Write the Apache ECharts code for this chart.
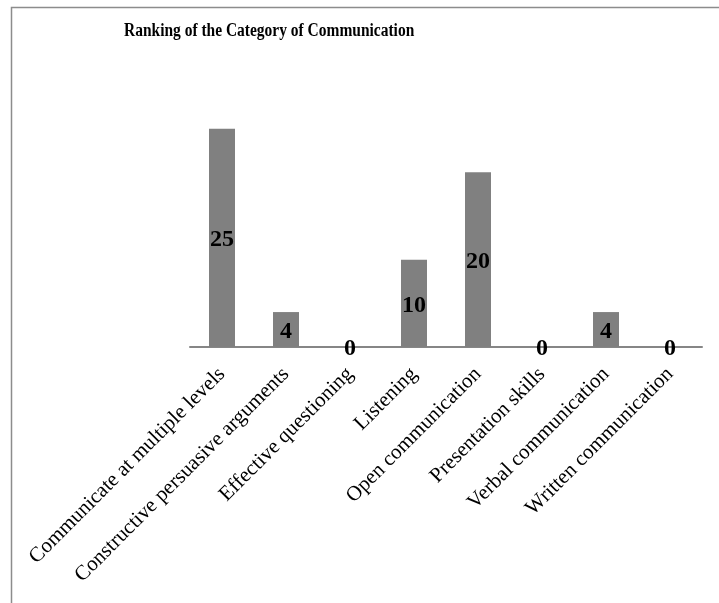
<!DOCTYPE html>
<html>
<head>
<meta charset="utf-8">
<script src="https://cdn.jsdelivr.net/npm/echarts@6/dist/echarts.min.js"></script>
<style>
  html, body { margin: 0; padding: 0; background: #fff; }
  #chart { width: 719px; height: 603px; }
</style>
</head>
<body>
<div id="chart"></div>
<script>
// Communication categories and how often each was ranked
const categories = [
  'Communicate at multiple levels',
  'Constructive persuasive arguments',
  'Effective questioning',
  'Listening',
  'Open communication',
  'Presentation skills',
  'Verbal communication',
  'Written communication'
];
const counts = [25, 4, 0, 10, 20, 0, 4, 0];
const chartTitle = 'Ranking of the Category of Communication';

const serif = '"Liberation Serif", "Times New Roman", serif';

const chart = echarts.init(document.getElementById('chart'), null, { renderer: 'canvas' });
chart.setOption({
  animation: false,
  backgroundColor: '#fff',
  graphic: [
    {
      // outer frame: left and top edges
      type: 'polyline',
      shape: { points: [[11.5, 603], [11.5, 7.5], [719, 7.5]] },
      style: { stroke: '#8c8c8c', lineWidth: 1.5, fill: null },
      silent: true
    },
    {
      // narrow bold heading
      type: 'text',
      x: 124,
      y: 31,
      scaleX: 0.86,
      style: {
        text: chartTitle,
        font: 'bold 18px ' + serif,
        fill: '#000',
        textAlign: 'left',
        textVerticalAlign: 'middle'
      },
      silent: true
    }
  ],
  grid: { left: 190, right: 17, top: 85, bottom: 256 },
  xAxis: {
    type: 'category',
    data: categories,
    axisLine: { show: true, lineStyle: { color: '#868686', width: 2 } },
    axisTick: { show: false },
    axisLabel: {
      interval: 0,
      rotate: 45,
      margin: 24,
      fontFamily: serif,
      fontSize: 21,
      color: '#000'
    }
  },
  yAxis: {
    type: 'value',
    min: 0,
    max: 30,
    show: false,
    splitLine: { show: false }
  },
  series: [{
    type: 'bar',
    data: counts,
    barWidth: 26,
    itemStyle: { color: '#808080' },
    label: {
      show: true,
      position: 'inside',
      offset: [0, 2],
      fontFamily: serif,
      fontSize: 24,
      fontWeight: 'bold',
      color: '#000'
    }
  }]
});
</script>
</body>
</html>
